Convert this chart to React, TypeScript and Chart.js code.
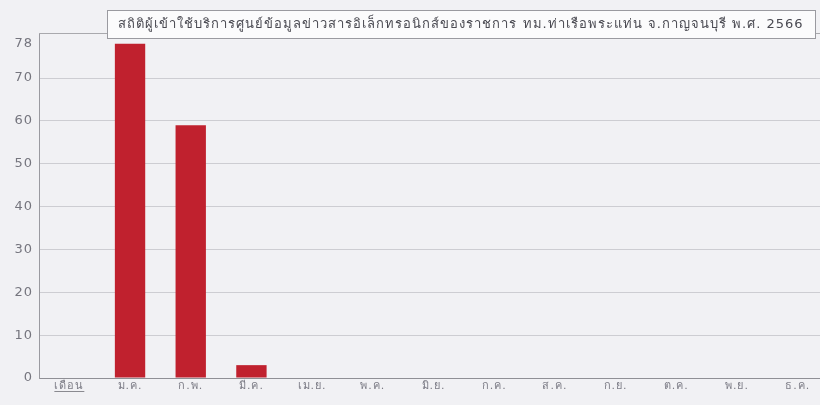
import React, { useEffect, useRef } from "react";
import { Chart, registerables } from "chart.js";

Chart.register(...registerables);

const categories = ["เดือน", "ม.ค.", "ก.พ.", "มี.ค.", "เม.ย.", "พ.ค.", "มิ.ย.", "ก.ค.", "ส.ค.", "ก.ย.", "ต.ค.", "พ.ย.", "ธ.ค."];
const visitors: (number | null)[] = [null, 78, 59, 3, 0, 0, 0, 0, 0, 0, 0, 0, 0];
const yTicks = [0, 10, 20, 30, 40, 50, 60, 70, 78];
const chartTitle = "สถิติผู้เข้าใช้บริการศูนย์ข้อมูลข่าวสารอิเล็กทรอนิกส์ของราชการ ทม.ท่าเรือพระแท่น จ.กาญจนบุรี พ.ศ. 2566";

const FONT = "Tahoma, 'DejaVu Sans', 'Noto Sans', sans-serif";

const spacingPlugin = {
  id: "spacing",
  beforeDraw(chart: any) {
    (chart.ctx as any).letterSpacing = "1px";
  },
};

const decorPlugin = {
  id: "decor",
  afterDraw(chart: any) {
    const { ctx, chartArea, scales } = chart;
    ctx.save();
    ctx.strokeStyle = "#a9a9ad";
    ctx.lineWidth = 1;
    ctx.beginPath();
    ctx.moveTo(chartArea.left, Math.round(chartArea.top) + 0.5);
    ctx.lineTo(chartArea.right, Math.round(chartArea.top) + 0.5);
    ctx.stroke();
    const x0 = scales.x.getPixelForValue(0);
    ctx.font = "11px " + FONT;
    (ctx as any).letterSpacing = "1px";
    const w = ctx.measureText(categories[0]).width;
    ctx.strokeStyle = "#8a8a90";
    ctx.beginPath();
    ctx.moveTo(x0 - w / 2, 391.5);
    ctx.lineTo(x0 + w / 2, 391.5);
    ctx.stroke();
    const bx = 107, by = 10, bw = 708, bh = 28;
    ctx.fillStyle = "#fbfbfc";
    ctx.fillRect(bx, by, bw, bh);
    ctx.strokeStyle = "#9a9aa0";
    ctx.strokeRect(bx + 0.5, by + 0.5, bw, bh);
    ctx.fillStyle = "#4a4a52";
    ctx.font = "13px " + FONT;
    (ctx as any).letterSpacing = "1px";
    ctx.textAlign = "center";
    ctx.textBaseline = "middle";
    ctx.fillText(chartTitle, bx + bw / 2, by + bh / 2 + 1);
    ctx.restore();
  },
};

export default function App() {
  const ref = useRef<HTMLCanvasElement | null>(null);
  useEffect(() => {
    if (!ref.current) return;
    const chart = new Chart(ref.current, {
      type: "bar",
      data: {
        labels: categories,
        datasets: [
          {
            data: visitors,
            backgroundColor: "#c0212e",
            borderWidth: 0,
            categoryPercentage: 1,
            barPercentage: 0.5,
          },
        ],
      },
      options: {
        responsive: false,
        animation: false,
        devicePixelRatio: 1,
        layout: { padding: { top: 33, left: 0, right: 0, bottom: 0 } },
        plugins: { legend: { display: false }, tooltip: { enabled: false }, title: { display: false } },
        scales: {
          x: {
            grid: { display: false, drawTicks: false },
            border: { color: "#8f8f95", width: 1 },
            ticks: { color: "#7c7c86", font: { size: 11, family: FONT }, padding: 2, autoSkip: false, maxRotation: 0 },
            afterFit(s: any) {
              s.height = 27;
            },
          },
          y: {
            min: 0,
            max: 80.5,
            afterBuildTicks(s: any) {
              s.ticks = yTicks.map((v) => ({ value: v }));
            },
            grid: {
              drawTicks: false,
              color: (c: any) => (c.tick && (c.tick.value === 78 || c.tick.value === 0) ? "rgba(0,0,0,0)" : "#cdcdd2"),
            },
            border: { color: "#9a9aa0", width: 1 },
            ticks: { color: "#75757e", font: { size: 13, family: FONT }, padding: 6 },
            afterFit(s: any) {
              s.width = 39;
            },
          },
        },
      },
      plugins: [spacingPlugin, decorPlugin],
    });
    return () => chart.destroy();
  }, []);
  return (
    <div style={{ position: "fixed", left: 0, top: 0, width: 820, height: 405, overflow: "hidden", background: "#f1f1f4" }}>
      <canvas ref={ref} width={828} height={405} style={{ display: "block", width: 828, height: 405 }} />
    </div>
  );
}
